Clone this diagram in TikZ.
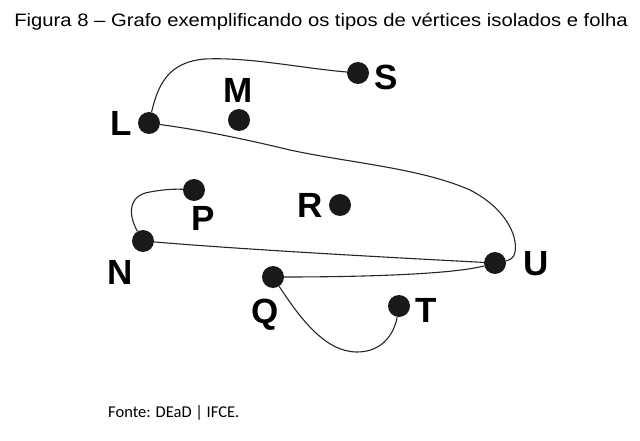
\documentclass[tikz,border=0pt]{standalone}
\usepackage{fontspec}
\setmainfont{Liberation Sans}
\newfontfamily\fontefont{Carlito}
\usetikzlibrary{positioning}

\begin{document}
\begin{tikzpicture}[x=1pt, y=-1pt,
    every node/.style={inner sep=0pt},
    vertex/.style={circle, fill=black!90, minimum size=22pt},
    vlabel/.style={font=\fontsize{35}{35}\selectfont\bfseries},
    edge/.style={line width=1.1pt, black!85},
    caption/.style={font=\fontsize{18}{20}\selectfont}
]
\useasboundingbox (0,0) rectangle (640,441);

% Title
\node[caption] (title) at (321,22)
    {\scalebox{1.125}[1]{Figura 8 -- Grafo exemplificando os tipos de vértices isolados e folha}};

% Vertices
\node[vertex] (S) at (358,73) {};
\node[vertex] (M) at (239,120) {};
\node[vertex] (L) at (149,123) {};
\node[vertex] (P) at (194,190) {};
\node[vertex] (R) at (340,205) {};
\node[vertex] (N) at (143,241) {};
\node[vertex] (U) at (495,263) {};
\node[vertex] (Q) at (273,277) {};
\node[vertex] (T) at (399,306) {};

% Vertex labels
\node[vlabel] (lS) at (386,77) {S};
\node[vlabel] (lM) at (238,90) {M};
\node[vlabel] (lL) at (121,123) {L};
\node[vlabel] (lP) at (203,218) {P};
\node[vlabel] (lR) at (310,205) {R};
\node[vlabel] (lN) at (120,272) {N};
\node[vlabel] (lU) at (536,264) {U};
\node[vlabel] (lQ) at (265,315) {Q};
\node[vlabel] (lT) at (426,310) {T};

% Edges
\draw[edge] (L) .. controls (158,85) and (168,62) .. (205,59)
    .. controls (250,57) and (300,68) .. (S);
\draw[edge] (L) .. controls (200,130) and (240,138) .. (290,150)
    .. controls (350,163) and (420,168) .. (470,190)
    .. controls (505,208) and (518,235) .. (515,252)
    .. controls (514,258) and (510,260) .. (U);
\draw[edge] (N) .. controls (128,215) and (128,195) .. (150,192)
    .. controls (165,189) and (178,189) .. (P);
\draw[edge] (N) .. controls (250,250) and (400,258) .. (U);
\draw[edge] (Q) .. controls (350,277) and (450,275) .. (U);
\draw[edge] (Q) .. controls (300,318) and (325,352) .. (357,352)
    .. controls (385,352) and (395,330) .. (T);

% Source
\node[anchor=west, font=\fontefont\fontsize{16.5}{18}\selectfont] (fonte) at (108,413) {Fonte: DEaD | IFCE.};

\end{tikzpicture}
\end{document}
